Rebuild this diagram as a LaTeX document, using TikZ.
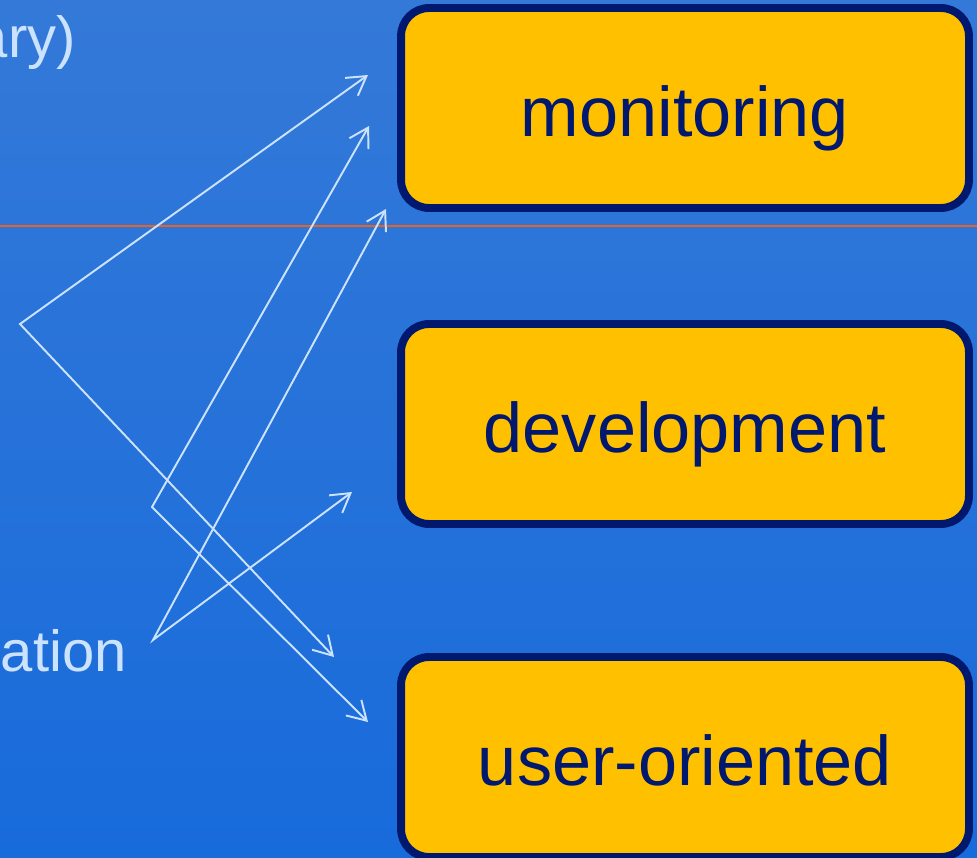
\documentclass[tikz,border=0pt]{standalone}
\usepackage{fontspec}
\setmainfont{Liberation Sans}
\usetikzlibrary{arrows.meta}
\definecolor{bgtop}{HTML}{3479D8}
\definecolor{bgbot}{HTML}{186BDB}
\definecolor{navy}{HTML}{00186E}
\definecolor{gold}{HTML}{FFC000}
\definecolor{pale}{HTML}{CCE3FF}
\definecolor{rule}{HTML}{E8641E}
\begin{document}
\begin{tikzpicture}[x=0.02cm,y=-0.02cm,
	box/.style={draw=navy,line width=4.5pt,fill=gold,rounded corners=0.56cm,
		minimum width=11.36cm,minimum height=4cm,text=navy,
		text height=40pt,text depth=7.2pt,
		font=\fontsize{40}{48}\selectfont},
	side/.style={text=pale,inner sep=0pt,font=\fontsize{33}{40}\selectfont},
	link/.style={pale,line width=1.1pt,
		{Straight Barb[length=10.5pt,width=12.5pt]}-{Straight Barb[length=10.5pt,width=12.5pt]}}]
\useasboundingbox (0,0) rectangle (977,858);
\clip (0,0) rectangle (977,858);
\shade[top color=bgtop,bottom color=bgbot] (0,0) rectangle (977,858);
\draw[rule,line width=0.85pt] (0,226) -- (977,226);

% left labels, cut by the frame
\node[side,anchor=base east] (sum) at (76,58) {ary)};
\node[side,anchor=base east] (app) at (127,671) {ation};

% boxes
\node[box] (mon) at (685,108) {monitoring};
\node[box] (dev) at (685,424) {development};
\node[box] (usr) at (685,757) {user-oriented};

% crossing arrows
\coordinate (a) at (20,324);
\coordinate (b) at (152,507);
\coordinate (c) at (153,640);
\coordinate (a1) at (368,75);
\coordinate (a2) at (334,657);
\coordinate (b1) at (369,126);
\coordinate (b2) at (368,722);
\coordinate (c1) at (386,209);
\coordinate (c2) at (352,492);
\draw[link] (a1) -- (a) -- (a2);
\draw[link] (b1) -- (b) -- (b2);
\draw[link] (c1) -- (c) -- (c2);
\end{tikzpicture}
\end{document}
